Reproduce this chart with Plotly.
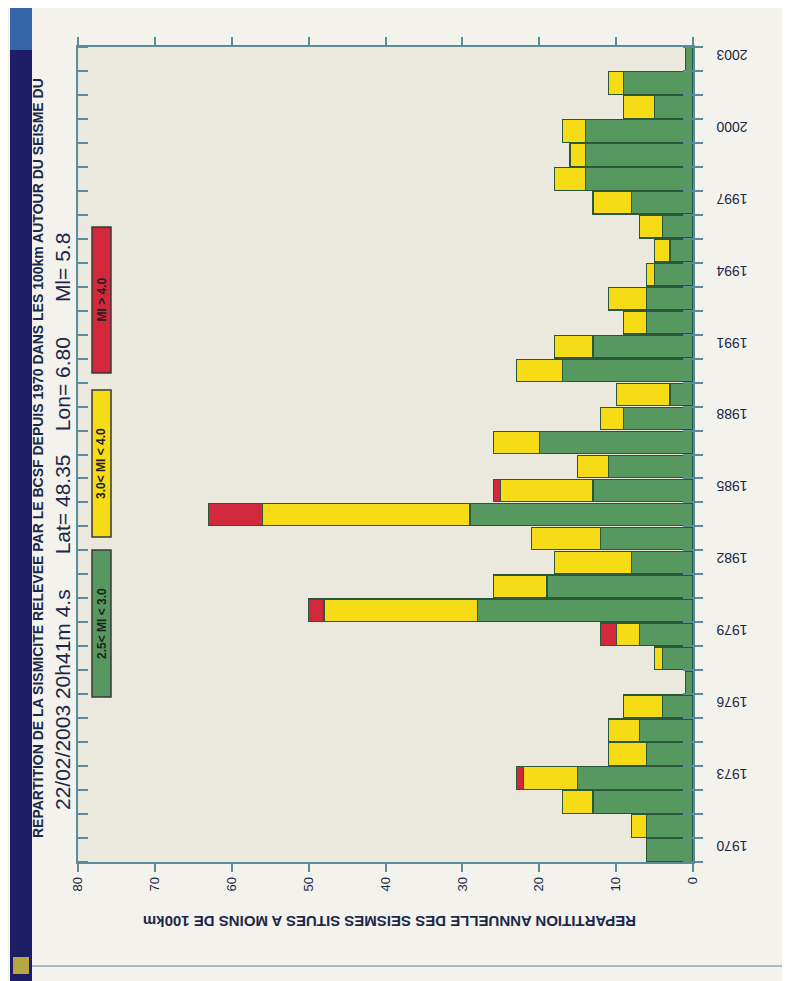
import plotly.graph_objects as go

years = list(range(1970, 2004))
m25_30 = [6, 6, 13, 15, 6, 7, 4, 1, 4, 7, 28, 19, 8, 12, 29, 13, 11, 20, 9, 3, 17, 13, 6, 6, 5, 3, 4, 8, 14, 14, 14, 5, 9, 1]
m30_40 = [0, 2, 4, 7, 5, 4, 5, 0, 1, 3, 20, 7, 10, 9, 27, 12, 4, 6, 3, 7, 6, 5, 3, 5, 1, 2, 3, 5, 4, 2, 3, 4, 2, 0]
m40 = [0, 0, 0, 1, 0, 0, 0, 0, 0, 2, 2, 0, 0, 0, 7, 1, 0, 0, 0, 0, 0, 0, 0, 0, 0, 0, 0, 0, 0, 0, 0, 0, 0, 0]
series_names = ["2.5< Ml < 3.0", "3.0< Ml < 4.0", "Ml > 4.0"]
year_labels = [str(y) for y in range(1970, 2004, 3)]
count_ticks = list(range(0, 81, 10))
title_line1 = "REPARTITION DE LA SISMICITE RELEVEE PAR LE BCSF DEPUIS 1970 DANS LES 100km AUTOUR DU SEISME DU"
title_line2 = ("22/02/2003 20h41m 4.s" + "&nbsp;" * 6 + "Lat= 48.35" + "&nbsp;" * 4
               + "Lon= 6.80" + "&nbsp;" * 6 + "Ml= 5.8")
axis_title = "REPARTITION ANNUELLE DES SEISMES SITUES A MOINS DE 100km"

GREEN = "#579860"
YELLOW = "#f6dc16"
RED = "#d3283c"
EDGE = "#2a563a"
TXT = "#1c2848"
AXC = "#5b8c9c"

OFF = 8                      # page offset of the figure (body margin)
W, H = 790 - OFF, 981 - OFF
L, R, T, B = 78, 693, 47, 862   # plot frame in page pixels


def px(x):
    return (x - L) / (R - L)


def py(y):
    return (B - y) / (B - T)


boundaries = [y + 0.5 for y in range(1969, 2004)]

fig = go.Figure()
for vals, col, name in zip([m25_30, m30_40, m40], [GREEN, YELLOW, RED], series_names):
    fig.add_trace(go.Bar(
        y=years, x=vals, orientation="h", name=name,
        marker=dict(color=col, line=dict(color=EDGE, width=1.2)),
        showlegend=False,
    ))

shapes = [
    dict(type="rect", xref="paper", yref="paper", x0=px(10), x1=px(32), y0=py(0), y1=py(990),
         fillcolor="#1d1d66", line=dict(width=0), layer="below"),
    dict(type="rect", xref="paper", yref="paper", x0=px(10), x1=px(32), y0=py(0), y1=py(50),
         fillcolor="#3565a8", line=dict(width=0), layer="below"),
    dict(type="rect", xref="paper", yref="paper", x0=px(13), x1=px(29), y0=py(957), y1=py(974),
         fillcolor="#b8a640", line=dict(width=0), layer="below"),
    dict(type="line", xref="paper", yref="paper", x0=px(32), x1=px(790), y0=py(966), y1=py(966),
         line=dict(color="#8fa7b8", width=1.5), layer="below"),
    dict(type="line", xref="paper", yref="paper", x0=px(32), x1=px(790), y0=py(4), y1=py(4),
         line=dict(color="#a9bccb", width=1.2), layer="below"),
]

annotations = [
    dict(text="<b>" + title_line1 + "</b>", xref="paper", yref="paper", x=px(38), y=py(458),
         xanchor="center", yanchor="middle", showarrow=False, textangle=-90,
         font=dict(family="Liberation Sans Narrow, Arial Narrow, sans-serif", size=14, color=TXT)),
    dict(text=title_line2, xref="paper", yref="paper", x=px(62), y=py(522),
         xanchor="center", yanchor="middle", showarrow=False, textangle=-90,
         font=dict(family="Liberation Sans, Arial, sans-serif", size=21, color=TXT)),
    dict(text="<b>" + axis_title + "</b>", xref="paper", yref="paper", x=px(390), y=py(922),
         xanchor="center", yanchor="middle", showarrow=False, textangle=180,
         font=dict(family="Liberation Sans Narrow, Arial Narrow, sans-serif", size=15, color=TXT)),
]

legend_boxes = [(RED, 227, 373, series_names[2]), (YELLOW, 390, 537, series_names[1]), (GREEN, 550, 697, series_names[0])]
for col, y0, y1, name in legend_boxes:
    shapes.append(dict(type="rect", xref="paper", yref="paper", x0=px(92), x1=px(111), y0=py(y1), y1=py(y0),
                       fillcolor=col, line=dict(color="#3a3a3a", width=1.5)))
    annotations.append(dict(text="<b>" + name + "</b>", xref="paper", yref="paper", x=px(101.5), y=py((y0 + y1) / 2),
                            xanchor="center", yanchor="middle", showarrow=False, textangle=-90,
                            font=dict(family="Liberation Sans, Arial, sans-serif", size=12, color="#202020")))

# invisible helper trace so the second y axis (outer tick marks on the right) is drawn
fig.add_trace(go.Scatter(x=[None], y=[None], yaxis="y2", showlegend=False, hoverinfo="skip"))

fig.update_layout(
    width=W, height=H,
    margin=dict(l=L - OFF, r=790 - R, t=T - OFF, b=981 - B),
    barmode="stack", bargap=0.06,
    paper_bgcolor="#f3f2ed", plot_bgcolor="#ebe8de",
    shapes=shapes, annotations=annotations,
    xaxis=dict(
        range=[80, 0], tickmode="array", tickvals=count_ticks, ticktext=[str(v) for v in count_ticks],
        tickangle=-90, ticks="outside", ticklen=8, tickcolor=AXC, tickwidth=1.5,
        showline=True, linecolor=AXC, linewidth=1.5, mirror="ticks",
        showgrid=False, zeroline=False,
        tickfont=dict(family="Liberation Sans, Arial, sans-serif", size=13, color=TXT),
    ),
    yaxis=dict(
        side="right", range=[1969.5, 2003.5], tickmode="array",
        tickvals=list(range(1970, 2004, 3)), ticktext=year_labels,
        tickangle=180, ticks="", ticklabelstandoff=50,
        minor=dict(tickmode="array", tickvals=boundaries,
                   ticks="inside", ticklen=10, tickcolor=AXC, tickwidth=1.5),
        showline=True, linecolor=AXC, linewidth=1.5, mirror="ticks",
        showgrid=False, zeroline=False,
        tickfont=dict(family="Liberation Sans, Arial, sans-serif", size=14, color=TXT),
    ),
    yaxis2=dict(
        overlaying="y", side="right", range=[1969.5, 2003.5], tickmode="array",
        tickvals=boundaries, ticks="outside", ticklen=9, tickcolor=AXC, tickwidth=1.5,
        showticklabels=False, showline=False, showgrid=False, zeroline=False,
    ),
    font=dict(family="Liberation Sans, Arial, sans-serif", color=TXT),
)

fig.write_html("out.html")
